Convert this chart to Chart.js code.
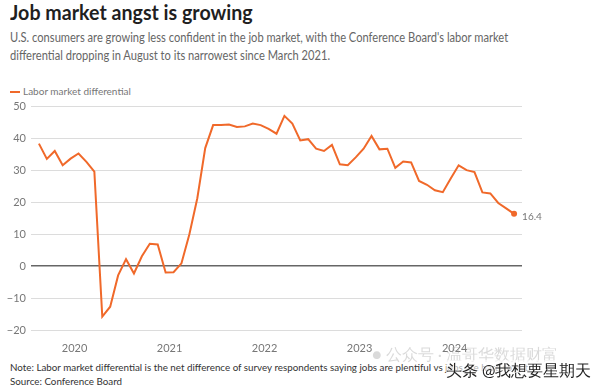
<!DOCTYPE html>
<html>
<head>
<meta charset="utf-8">
<script src="https://cdn.jsdelivr.net/npm/chart.js@4.4.1/dist/chart.umd.min.js"></script>
<style>
  body { margin: 0; width: 600px; height: 388px; background: #fff; font-family: Lato, "Noto Sans", sans-serif; position: relative; overflow: hidden; }
  #title { position: absolute; left: 10px; top: -1px; font-size: 21px; font-weight: bold; color: #1f1f1f; transform: scaleX(0.935); transform-origin: left top; white-space: nowrap; }
  #sub { position: absolute; left: 10px; top: 29px; width: 640px; font-size: 12.5px; line-height: 17.5px; color: #666; transform: scaleX(0.89); transform-origin: left top; }
  #legend { position: absolute; left: 10px; top: 85px; font-size: 10px; color: #777; }
  #legend span { display: inline-block; width: 10px; height: 2px; background: #f0692a; vertical-align: middle; margin-right: 3px; }
  #wrap { position: absolute; left: 0; top: 95px; width: 600px; height: 257px; }
  #note { position: absolute; left: 10px; top: 360px; font-size: 9.8px; line-height: 14px; color: #333; white-space: nowrap; }
  #wm1 { position: absolute; left: 372px; top: 344px; font-size: 16px; color: rgba(150,150,150,0.35); }
  #wm2 { position: absolute; left: 446px; top: 360px; font-size: 16px; color: #222; text-shadow: 0 0 2px #fff, 0 0 2px #fff; background: rgba(255,255,255,0.6); }
</style>
</head>
<body>
<div id="title">Job market angst is growing</div>
<div id="sub">U.S. consumers are growing less confident in the job market, with the Conference Board's labor market<br>differential dropping in August to its narrowest since March 2021.</div>
<div id="legend"><span></span>Labor market differential</div>
<div id="wrap"><canvas id="grafico" width="600" height="257"></canvas></div>
<div id="note">Note: Labor market differential is the net difference of survey respondents saying jobs are plentiful vs jobs are hard to get.<br>Source: Conference Board</div>
<div id="wm1">● 公众号 · 温哥华数据财富</div>
<div id="wm2">头条 @我想要星期天</div>
<script>
// Meses: Aug 2019 ... Aug 2024
const startYear = 2019;
const startMonth = 8;
const yearLabels = ['2020', '2021', '2022', '2023', '2024'];
const yTicks = [-20, -10, 0, 10, 20, 30, 40, 50];
const differential = [
  38.4, 33.6, 36.1, 31.6, 33.7,
  35.3, 32.7, 29.6, -15.8, -12.7, -2.9, 2.2, -2.3, 3.1, 7.0, 6.8, -2.0,
  -1.9, 0.9, 10.0, 21.3, 37.0, 44.2, 44.2, 44.4, 43.6, 43.8, 44.7, 44.2,
  43.0, 41.5, 47.1, 44.7, 39.4, 39.8, 36.8, 36.1, 38.0, 31.9, 31.6, 34.1,
  36.8, 40.8, 36.6, 36.8, 30.8, 32.8, 32.5, 26.7, 25.5, 23.8, 23.2, 27.5,
  31.6, 30.1, 29.5, 23.1, 22.8, 19.8, 18.1, 16.4
];

const puntos = differential.map((v, i) => ({ x: i, y: v }));
const yearIdx = yearLabels.map(y => (Number(y) - startYear) * 12 - (startMonth - 1));
const lastIdx = differential.length - 1;

const endLabel = {
  id: 'endLabel',
  afterDatasetsDraw(chart) {
    const ctx = chart.ctx;
    const xs = chart.scales.x, ys = chart.scales.y;
    const px = xs.getPixelForValue(lastIdx), py = ys.getPixelForValue(differential[lastIdx]);
    ctx.save();
    ctx.fillStyle = '#f0692a';
    ctx.beginPath();
    ctx.arc(px, py, 3, 0, Math.PI * 2);
    ctx.fill();
    ctx.fillStyle = '#777';
    ctx.font = '10px Lato';
    ctx.textBaseline = 'middle';
    ctx.fillText(differential[lastIdx].toFixed(1), px + 8, py + 3);
    ctx.restore();
  }
};

const ctx = document.getElementById('grafico').getContext('2d');
new Chart(ctx, {
  type: 'line',
  data: {
    datasets: [{
      label: 'Labor market differential',
      data: puntos,
      borderColor: '#f0692a',
      borderWidth: 2,
      pointRadius: 0,
      tension: 0,
      fill: false
    }]
  },
  plugins: [endLabel],
  options: {
    responsive: false,
    animation: false,
    layout: { padding: { top: 9, right: 78, left: 0, bottom: 0 } },
    plugins: { legend: { display: false }, tooltip: { enabled: false } },
    scales: {
      x: {
        type: 'linear',
        min: -1,
        max: 61,
        afterBuildTicks: axis => { axis.ticks = yearIdx.map(v => ({ value: v })); },
        afterFit: axis => { axis.height = 22; },
        grid: { display: false },
        border: { display: false },
        ticks: {
          color: '#777',
          font: { family: 'Lato', size: 11 },
          padding: 4,
          labelOffset: -4,
          maxRotation: 0,
          callback: v => yearLabels[yearIdx.indexOf(v)]
        }
      },
      y: {
        min: -20,
        max: 50,
        afterBuildTicks: axis => { axis.ticks = yTicks.map(v => ({ value: v })); },
        afterFit: axis => { axis.width = 31; },
        border: { display: false },
        grid: {
          drawTicks: false,
          color: c => c.tick.value === 0 ? '#666' : '#dcdcdc',
          lineWidth: c => c.tick.value === 0 ? 1.5 : 1
        },
        ticks: {
          color: '#777',
          font: { family: 'Lato', size: 11 },
          padding: 5,
          callback: v => v < 0 ? '\u2212' + Math.abs(v) : v
        }
      }
    }
  }
});
</script>
</body>
</html>
